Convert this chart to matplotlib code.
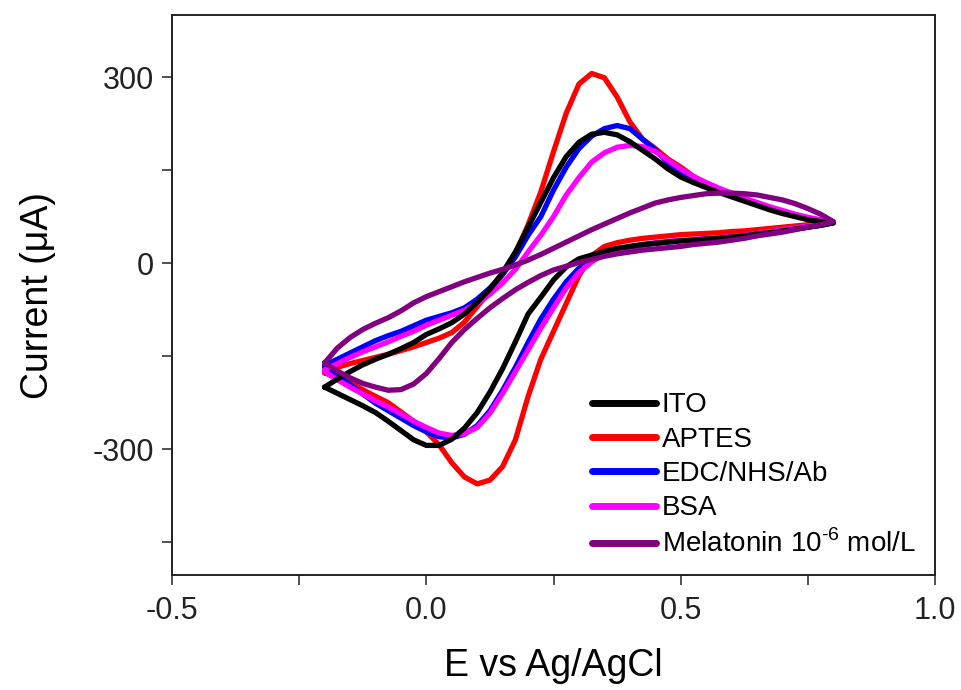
import numpy as np
import matplotlib
matplotlib.use('Agg')
import matplotlib.pyplot as plt

plt.rcParams['font.family'] = ['Liberation Sans', 'DejaVu Sans']
plt.rcParams['mathtext.fontset'] = 'custom'
plt.rcParams['mathtext.rm'] = 'Liberation Sans'

# Potential grid (V), shared by the forward and reverse scans
potential = [-0.2, -0.175, -0.15, -0.125, -0.1, -0.075, -0.05, -0.025, 0.0, 0.025,
             0.05, 0.075, 0.1, 0.125, 0.15, 0.175, 0.2, 0.225, 0.25, 0.275,
             0.3, 0.325, 0.35, 0.375, 0.4, 0.425, 0.45, 0.475, 0.5, 0.525,
             0.55, 0.575, 0.6, 0.625, 0.65, 0.675, 0.7, 0.725, 0.75, 0.775, 0.8]

# Forward (anodic) scan currents in uA, from -0.2 V up to 0.8 V
ito_fwd = [-200, -187, -175, -164, -155, -147, -138, -128, -115, -106,
           -96, -82, -63, -42, -15, 18, 58, 98, 138, 172,
           195, 208, 211, 207, 196, 182, 168, 152, 139, 130,
           122, 114, 107, 100, 93, 86, 80, 75, 70, 67, 65]
aptes_fwd = [-177, -168, -162, -157, -152, -147, -141, -135, -128, -121,
             -112, -95, -70, -45, -18, 15, 62, 115, 180, 242,
             289, 306, 299, 268, 228, 200, 185, 168, 155, 140,
             128, 119, 110, 102, 95, 88, 82, 77, 72, 68, 65]
edc_fwd = [-165, -155, -145, -135, -125, -117, -110, -101, -92, -86,
           -80, -72, -58, -40, -18, 10, 45, 75, 118, 155,
           185, 205, 217, 222, 217, 200, 183, 162, 145, 134,
           125, 117, 110, 102, 95, 88, 82, 77, 72, 68, 65]
bsa_fwd = [-172, -162, -152, -143, -135, -127, -118, -110, -100, -92,
           -84, -76, -65, -50, -32, -10, 18, 45, 75, 110,
           138, 163, 178, 187, 190, 188, 180, 166, 152, 140,
           130, 121, 113, 105, 98, 91, 85, 79, 74, 70, 67]
mel_fwd = [-161, -137, -120, -107, -97, -88, -77, -64, -54, -46,
           -38, -30, -23, -16, -10, -3, 5, 14, 24, 34,
           44, 54, 63, 72, 81, 89, 97, 102, 106, 109,
           112, 113, 113, 112, 110, 106, 102, 96, 88, 79, 67]

# Reverse (cathodic) scan currents in uA, same potentials as above
ito_rev = [-200, -210, -220, -230, -241, -255, -270, -285, -294, -294,
           -284, -266, -241, -208, -170, -127, -82, -55, -27, -6,
           7, 13, 19, 24, 27, 30, 32, 34, 36, 37,
           39, 40, 42, 44, 47, 49, 52, 55, 58, 61, 65]
aptes_rev = [-177, -185, -193, -204, -215, -225, -240, -255, -272, -293,
             -322, -345, -356, -350, -328, -285, -215, -155, -110, -65,
             -20, 12, 27, 33, 37, 40, 42, 44, 46, 47,
             48, 49, 51, 52, 54, 56, 58, 60, 62, 63, 65]
edc_rev = [-168, -182, -196, -211, -226, -238, -250, -262, -272, -280,
           -282, -276, -262, -238, -205, -168, -128, -90, -58, -30,
           -8, 5, 15, 22, 26, 29, 32, 34, 36, 37,
           39, 40, 42, 44, 47, 49, 52, 55, 58, 61, 65]
bsa_rev = [-175, -188, -200, -211, -222, -232, -243, -255, -265, -274,
           -278, -275, -265, -242, -210, -175, -140, -105, -72, -40,
           -15, 2, 15, 22, 27, 30, 33, 35, 37, 38,
           40, 41, 43, 45, 48, 51, 54, 57, 60, 63, 67]
mel_rev = [-161, -174, -185, -194, -200, -205, -204, -195, -178, -154,
           -128, -107, -89, -72, -57, -43, -31, -20, -11, -5,
           1, 6, 11, 15, 18, 21, 23, 25, 27, 30,
           32, 34, 37, 40, 44, 47, 50, 54, 58, 62, 67]

labels = ['ITO', 'APTES', 'EDC/NHS/Ab', 'BSA', 'Melatonin 10$^{\\text{-6}}$ mol/L']
colors = ['#000000', '#ff0000', '#0000ff', '#ff00ff', '#800080']
forward = [ito_fwd, aptes_fwd, edc_fwd, bsa_fwd, mel_fwd]
reverse = [ito_rev, aptes_rev, edc_rev, bsa_rev, mel_rev]
zorders = [4, 1, 2, 3, 5]

E = np.array(potential)
fig = plt.figure(figsize=(9.62, 6.9), dpi=100)
ax = fig.add_axes([0.1788, 0.1667, 0.7932, 0.8113])

for lab, col, fw, rv, z in zip(labels, colors, forward, reverse, zorders):
    x = np.concatenate([E, E[::-1]])
    y = np.concatenate([np.array(fw), np.array(rv)[::-1]])
    ax.plot(x, y, color=col, lw=3.8, label=lab, zorder=z,
            solid_joinstyle='round', solid_capstyle='round')

ax.set_xlim(-0.5, 1.0)
ax.set_ylim(-503, 400)
ax.set_xticks([-0.5, 0.0, 0.5, 1.0])
ax.set_xticklabels(['-0.5', '0.0', '0.5', '1.0'])
ax.set_xticks([-0.25, 0.25, 0.75], minor=True)
ax.set_yticks([-300, 0, 300])
ax.set_yticklabels(['-300', '0', '300'])
ax.set_yticks([-450, -150, 150], minor=True)

ax.tick_params(which='both', direction='out', length=7, width=1.1,
               labelsize=22, top=False, right=False, colors='#222222')
ax.tick_params(axis='x', pad=8)
ax.tick_params(axis='y', pad=6)
for s in ax.spines.values():
    s.set_linewidth(1.4)
    s.set_color('#222222')

ax.set_xlabel('E vs Ag/AgCl', fontsize=27, labelpad=16)
ax.set_ylabel('Current (μA)', fontsize=27, labelpad=26)

leg = ax.legend(loc='lower right', bbox_to_anchor=(1.0, -0.005), frameon=False,
                fontsize=20, handlelength=2.3, handletextpad=0.2,
                labelspacing=0.3, borderaxespad=0.3)
for h in leg.get_lines():
    h.set_linewidth(5)

fig.savefig('out.png', dpi=100)
